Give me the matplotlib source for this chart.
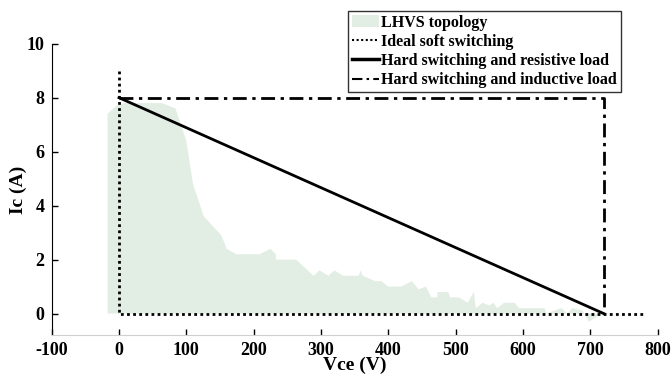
import numpy as np
import matplotlib
matplotlib.use("Agg")
import matplotlib.pyplot as plt
from matplotlib.patches import Patch
from matplotlib.lines import Line2D

plt.rcParams['font.family'] = 'Liberation Serif'
plt.rcParams['font.weight'] = 'bold'
plt.rcParams['axes.unicode_minus'] = False

# LHVS topology envelope (Vce in V, Ic in A)
lhvs_v = [-17, -17, -4, 8, 64, 84, 100, 110, 126, 152, 160, 174, 209, 225, 233, 233,
          263, 289, 298, 311, 320, 333, 356, 359, 362, 381, 390, 400, 419, 435, 445,
          456, 464, 473, 473, 489, 492, 505, 518, 527, 530, 540, 550, 556, 562, 572,
          588, 594, 632, 635, 645, 657, 666, 673, 689, 698, 711, 720, 720]
lhvs_i = [0, 7.4, 7.7, 7.8, 7.8, 7.6, 6.4, 4.8, 3.6, 2.9, 2.4, 2.2, 2.2, 2.4, 2.2, 2.0,
          2.0, 1.4, 1.6, 1.4, 1.6, 1.4, 1.4, 1.6, 1.4, 1.2, 1.2, 1.0, 1.0, 1.2, 0.9,
          1.0, 0.6, 0.6, 0.8, 0.8, 0.6, 0.6, 0.4, 0.8, 0.2, 0.4, 0.3, 0.4, 0.2, 0.4,
          0.4, 0.2, 0.2, 0.0, 0.1, 0.2, 0.0, 0.2, 0.1, -0.3, -0.1, 0.0, 0.0]

soft_v = [0, 0, 780]
soft_i = [9, 0, 0]
res_v = [0, 720]
res_i = [8, 0]
ind_v = [0, 720, 720]
ind_i = [8, 8, 0]

fill_color = '#e2eee3'
dots = (0, (1, 1.2))
dashdot = (0, (5, 2, 1.2, 2))

fig = plt.figure(figsize=(6.71, 3.77), dpi=100)
ax = fig.add_axes([0.077, 0.111, 0.903, 0.773])

ax.fill(lhvs_v, lhvs_i, color=fill_color, lw=0)
ax.plot(soft_v, soft_i, color='black', lw=2, linestyle=dots)
ax.plot(res_v, res_i, color='black', lw=2)
ax.plot(ind_v, ind_i, color='black', lw=2, linestyle=dashdot)

ax.set_xlim(-100, 800)
ax.set_ylim(-0.8, 10)
ax.set_xticks(np.arange(-100, 801, 100))
ax.set_yticks(np.arange(0, 11, 2))
ax.spines['top'].set_visible(False)
ax.spines['right'].set_visible(False)
ax.spines['bottom'].set_color('#d0d0d0')
ax.tick_params(direction='in', length=4, width=1, labelsize=13, color='black', pad=5)
for lab in ax.get_xticklabels() + ax.get_yticklabels():
    lab.set_fontweight('bold')

ax.set_xlabel('Vce (V)', fontsize=14, fontweight='bold')
ax.set_ylabel('Ic (A)', fontsize=14, fontweight='bold')
ax.xaxis.set_label_coords(0.5, -0.075)
ax.yaxis.set_label_coords(-0.04, 0.5)

handles = [Patch(facecolor=fill_color, edgecolor='none'),
           Line2D([], [], color='black', lw=1.5, linestyle=dots),
           Line2D([], [], color='black', lw=2.5),
           Line2D([], [], color='black', lw=1.5, linestyle=dashdot)]
labels = ['LHVS topology', 'Ideal soft switching',
          'Hard switching and resistive load', 'Hard switching and inductive load']
leg = fig.legend(handles, labels, loc='upper left', bbox_to_anchor=(0.518, 0.972),
                 frameon=True, fancybox=False, edgecolor='black',
                 handlelength=1.7, handletextpad=0.15, labelspacing=0.2,
                 borderpad=0.25, borderaxespad=0, prop={'weight': 'bold', 'size': 11.5})
leg.get_frame().set_linewidth(1)

fig.savefig('out.png', dpi=100)
